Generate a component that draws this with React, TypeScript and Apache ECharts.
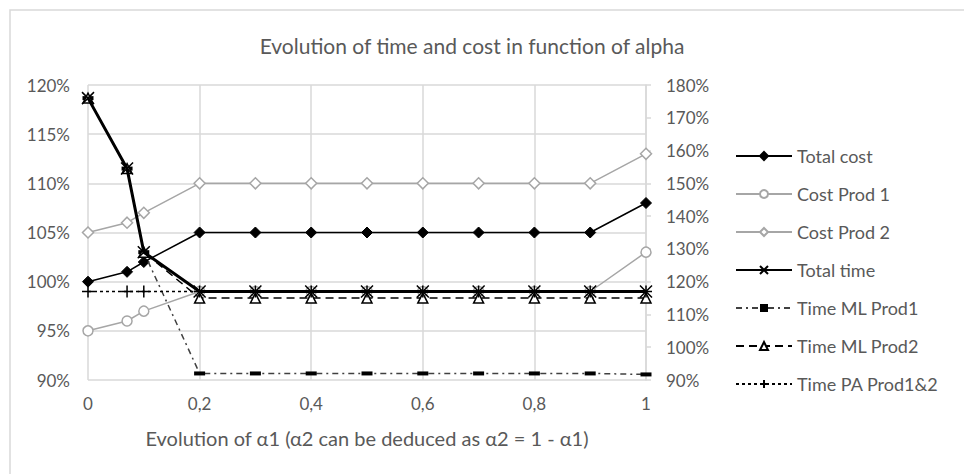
import React, { useEffect, useRef } from "react";
import * as echarts from "echarts";

const alphaValues = [0, 0.07, 0.1, 0.2, 0.3, 0.4, 0.5, 0.6, 0.7, 0.8, 0.9, 1];
const totalCost = [100, 101, 102, 105, 105, 105, 105, 105, 105, 105, 105, 108];
const costProd1 = [95, 96, 97, 99, 99, 99, 99, 99, 99, 99, 99, 103];
const costProd2 = [105, 106, 107, 110, 110, 110, 110, 110, 110, 110, 110, 113];
const totalTime = [176, 154.5, 129, 117, 117, 117, 117, 117, 117, 117, 117, 117];
const timeMLProd1 = [176, 154.5, 129, 92, 92, 92, 92, 92, 92, 92, 92, 91.7];
const timeMLProd2 = [176, 154.5, 129, 115, 115, 115, 115, 115, 115, 115, 115, 115];
const timePAProd12 = [117, 117, 117, 117, 117, 117, 117, 117, 117, 117, 117, 117];

const seriesNames = [
  "Total cost",
  "Cost Prod 1",
  "Cost Prod 2",
  "Total time",
  "Time ML Prod1",
  "Time ML Prod2",
  "Time PA Prod1&2",
];

const FONT = "Lato";
const TEXT = "#595959";
const GRID = "#d9d9d9";
const GREY = "#a6a6a6";

const pairs = (ys: number[]) => alphaValues.map((x, i) => [x, ys[i]]);

export default function App() {
  const ref = useRef<HTMLDivElement>(null);
  useEffect(() => {
    if (!ref.current) return;
    const chart = echarts.init(ref.current, undefined, { renderer: "svg" });
    chart.setOption({
      animation: false,
      backgroundColor: "#ffffff",
      textStyle: { fontFamily: FONT },
      title: {
        text: "Evolution of time and cost in function of alpha",
        left: 467,
        top: 30,
        textAlign: "center",
        textStyle: { fontFamily: FONT, fontSize: 21, fontWeight: "normal", color: TEXT },
      },
      graphic: [
        {
          type: "rect",
          shape: { x: 10, y: 10, width: 980, height: 500 },
          style: { fill: "none", stroke: GRID, lineWidth: 1.5 },
          silent: true,
        },
      ],
      legend: {
        orient: "vertical",
        left: 730,
        top: 142,
        itemWidth: 56,
        itemHeight: 10,
        itemGap: 20,
        data: seriesNames,
        textStyle: { fontFamily: FONT, fontSize: 18, color: TEXT },
      },
      grid: { left: 88, right: 318, top: 85, bottom: 94, containLabel: false },
      xAxis: {
        type: "value",
        min: 0,
        max: 1,
        interval: 0.2,
        name: "Evolution of α1 (α2 can be deduced as α2 = 1 - α1)",
        nameLocation: "middle",
        nameGap: 48,
        nameTextStyle: { fontFamily: FONT, fontSize: 20, color: TEXT },
        axisLine: { show: false },
        axisTick: { show: false },
        splitLine: { show: true, lineStyle: { color: GRID, width: 1.5 } },
        axisLabel: {
          fontFamily: FONT,
          fontSize: 17,
          color: TEXT,
          margin: 15,
          formatter: (v: number) => String(Math.round(v * 10) / 10).replace(".", ","),
        },
      },
      yAxis: [
        {
          type: "value",
          min: 90,
          max: 120,
          interval: 5,
          position: "left",
          axisLine: { show: false },
          axisTick: { show: false },
          splitLine: { show: true, lineStyle: { color: GRID, width: 1.5 } },
          axisLabel: { fontFamily: FONT, fontSize: 17, color: TEXT, margin: 18, formatter: "{value}%" },
        },
        {
          type: "value",
          min: 90,
          max: 180,
          interval: 10,
          position: "right",
          axisLine: { show: true, lineStyle: { color: GRID, width: 1.5 } },
          axisTick: { show: true, inside: false, length: 5, lineStyle: { color: GRID, width: 1.5 } },
          splitLine: { show: false },
          axisLabel: { fontFamily: FONT, fontSize: 17, color: TEXT, margin: 20, formatter: "{value}%" },
        },
      ],
      series: [
        {
          name: "Total cost",
          type: "line",
          yAxisIndex: 0,
          data: pairs(totalCost),
          symbol: "diamond",
          symbolSize: 11,
          lineStyle: { color: "#000", width: 1.5 },
          itemStyle: { color: "#000", borderColor: "#000", borderWidth: 1 },
          z: 3,
        },
        {
          name: "Cost Prod 1",
          type: "line",
          yAxisIndex: 0,
          data: pairs(costProd1),
          symbol: "circle",
          symbolSize: 10,
          lineStyle: { color: GREY, width: 1.5 },
          itemStyle: { color: "#fff", borderColor: GREY, borderWidth: 1.5 },
          z: 2,
        },
        {
          name: "Cost Prod 2",
          type: "line",
          yAxisIndex: 0,
          data: pairs(costProd2),
          symbol: "diamond",
          symbolSize: 11,
          lineStyle: { color: GREY, width: 1.5 },
          itemStyle: { color: "#fff", borderColor: GREY, borderWidth: 1.5 },
          z: 2,
        },
        {
          name: "Total time",
          type: "line",
          yAxisIndex: 1,
          data: pairs(totalTime),
          symbol: "path://M0,0L10,10M10,0L0,10",
          symbolSize: 12,
          lineStyle: { color: "#000", width: 3 },
          itemStyle: { color: "#000", borderColor: "#000", borderWidth: 1.5 },
          z: 6,
        },
        {
          name: "Time ML Prod1",
          type: "line",
          yAxisIndex: 1,
          data: pairs(timeMLProd1),
          symbol: "rect",
          symbolSize: [11, 4],
          lineStyle: { color: "#404040", width: 1.5, type: [6, 4, 2, 4] },
          itemStyle: { color: "#000", borderColor: "#000", borderWidth: 0 },
          z: 4,
        },
        {
          name: "Time ML Prod2",
          type: "line",
          yAxisIndex: 1,
          data: pairs(timeMLProd2),
          symbol: "triangle",
          symbolSize: 10,
          lineStyle: { color: "#000", width: 1.5, type: [8, 5] },
          itemStyle: { color: "#fff", borderColor: "#000", borderWidth: 1.5 },
          z: 5,
        },
        {
          name: "Time PA Prod1&2",
          type: "line",
          yAxisIndex: 1,
          data: pairs(timePAProd12),
          symbol: "path://M5,0L5,10M0,5L10,5",
          symbolSize: 12,
          lineStyle: { color: "#000", width: 1.5, type: [3, 3] },
          itemStyle: { color: "#000", borderColor: "#000", borderWidth: 1.5 },
          z: 5,
        },
      ],
    });
    return () => chart.dispose();
  }, []);
  return (
    <div
      ref={ref}
      style={{ position: "fixed", left: 0, top: 0, width: 964, height: 474 }}
    />
  );
}
